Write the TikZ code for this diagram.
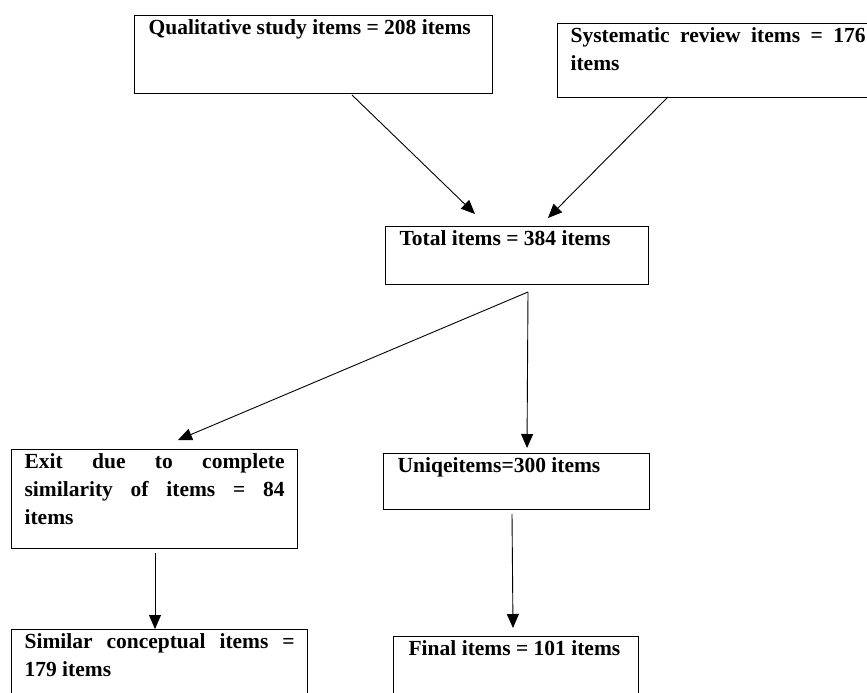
\documentclass[tikz,border=0pt]{standalone}
\usepackage{fontspec}
\setmainfont{Liberation Serif}
\usetikzlibrary{arrows.meta}
\newcommand\bxt[3]{\parbox[c][#2][t]{#1}{\rule{0pt}{18.5pt}#3}}
\begin{document}
\begin{tikzpicture}[x=1pt,y=-1pt,
  box/.style={draw, line width=1.2pt, anchor=north west, inner ysep=0pt,
    font=\fontsize{21.5}{28}\selectfont\bfseries},
  arr/.style={line width=0.9pt, -{Triangle[length=14pt,width=12pt]}}]
\clip (0,0) rectangle (867,693);
\node[box, inner xsep=14pt] (q) at (134,15) {\bxt{330pt}{78pt}{Qualitative study items = 208 items}};
\node[box, inner xsep=13pt] (s) at (557,23) {\bxt{295pt}{74pt}{\makebox[\linewidth][s]{Systematic review items = 176}\\items}};
\node[box, inner xsep=14pt] (t) at (385,226) {\bxt{235pt}{58pt}{Total items = 384 items}};
\node[box, inner xsep=13pt] (e) at (11,449) {\bxt{260pt}{99pt}{\makebox[\linewidth][s]{Exit due to complete}\\\makebox[\linewidth][s]{similarity of items = 84}\\items}};
\node[box, inner xsep=14pt] (u) at (383,453) {\bxt{238pt}{56pt}{Uniqeitems=300 items}};
\node[box, inner xsep=13pt] (c) at (11,629) {\bxt{270pt}{85pt}{\makebox[\linewidth][s]{Similar conceptual items =}\\179 items}};
\node[box, inner xsep=15pt] (f) at (393,636) {\bxt{215pt}{85pt}{Final items = 101 items}};
% connector ends
\coordinate (q1) at (352,95);
\coordinate (s1) at (668,97);
\coordinate (t1) at (528,292);
\coordinate (tq) at (475,214);
\coordinate (ts) at (548,218);
\coordinate (ee) at (178,440);
\coordinate (uu) at (527,448);
\coordinate (e1) at (155,553);
\coordinate (cc) at (155,629);
\coordinate (u1) at (512,514);
\coordinate (ff) at (513,628);
\draw[arr] (q1) -- (tq);
\draw[arr] (s1) -- (ts);
\draw[arr] (t1) -- (ee);
\draw[arr] (t1) -- (uu);
\draw[arr] (e1) -- (cc);
\draw[arr] (u1) -- (ff);
\end{tikzpicture}
\end{document}
